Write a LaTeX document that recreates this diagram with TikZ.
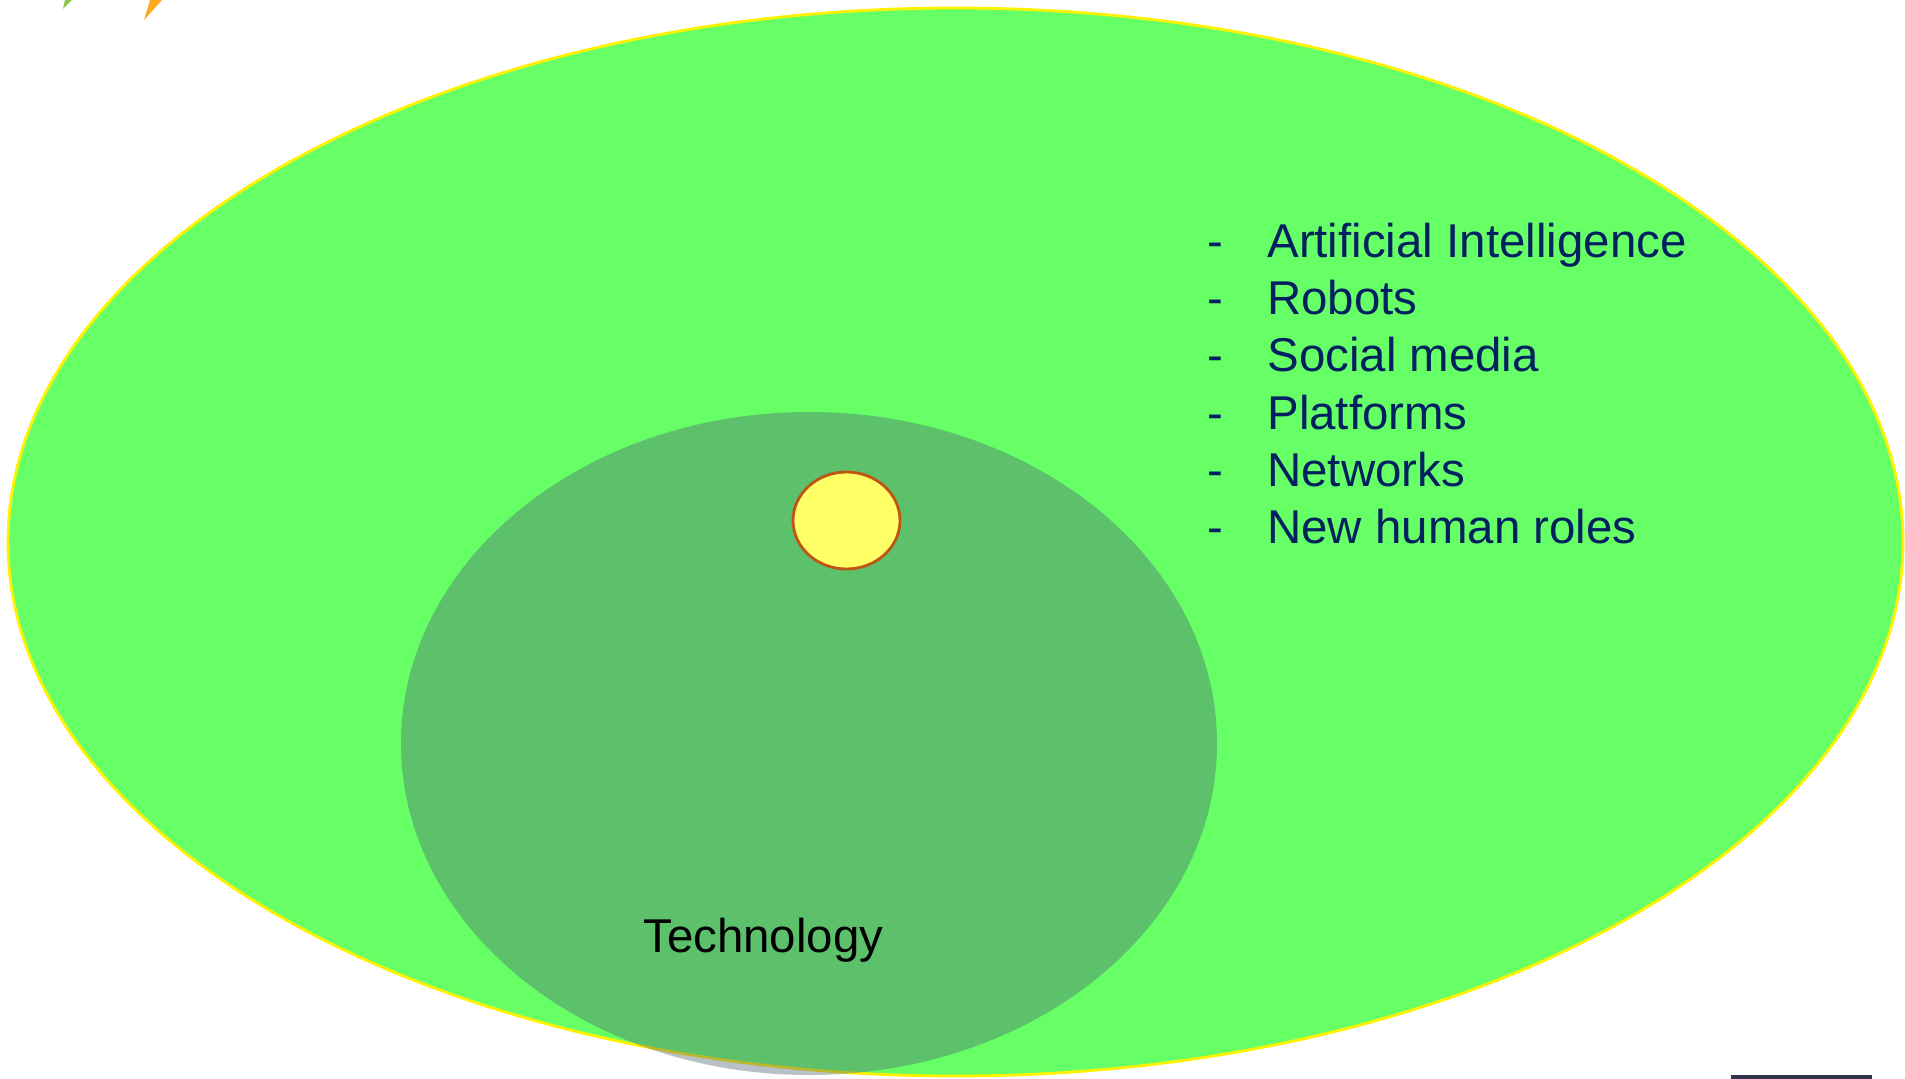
\documentclass[tikz,border=0pt]{standalone}
\usepackage{xcolor}
\usepackage{fontspec}
\setmainfont{Liberation Sans}
\usetikzlibrary{positioning}

\definecolor{outergreen}{RGB}{102,255,102}
\definecolor{slategrey}{RGB}{80,100,117}
\definecolor{sunyellow}{RGB}{255,255,102}
\definecolor{rustorange}{RGB}{190,85,20}
\definecolor{listblue}{RGB}{0,32,96}
\definecolor{sprigorange}{RGB}{255,170,30}
\definecolor{spriggreen}{RGB}{140,200,70}
\definecolor{rulenavy}{RGB}{51,51,77}

\begin{document}
\begin{tikzpicture}[x=0.02cm,y=-0.02cm,
    listitem/.style={anchor=base west,inner sep=0pt,text=listblue,font=\fontsize{27}{32}\selectfont},
    bigtext/.style={anchor=base west,inner sep=0pt,text=black,font=\fontsize{27}{32}\selectfont}]

    \useasboundingbox (0,0) rectangle (1905,1078);

    % bits of leaves at the top edge
    \fill[spriggreen] (65,0) -- (72,0) -- (63,9) -- cycle;
    \fill[sprigorange] (150,0) -- (162,0) -- (144,20) -- cycle;

    % outer ellipse
    \draw[fill=outergreen,draw=yellow,line width=1.6pt] (955.5,542) ellipse (947.5 and 534);

    % technology ellipse, see-through
    \fill[slategrey,opacity=.4] (809,743.5) ellipse (408 and 331.5);

    % small sun
    \draw[fill=sunyellow,draw=rustorange,line width=1.6pt] (846.5,520.5) ellipse (53.5 and 48.5);

    % list
    \node[listitem] (d1) at (1207,257) {-};
    \node[listitem] (ai) at (1267,257) {Artificial Intelligence};
    \node[listitem] (d2) at (1207,314) {-};
    \node[listitem] (robots) at (1267,314) {Robots};
    \node[listitem] (d3) at (1207,371.5) {-};
    \node[listitem] (social) at (1267,371.5) {Social media};
    \node[listitem] (d4) at (1207,429) {-};
    \node[listitem] (platforms) at (1267,429) {Platforms};
    \node[listitem] (d5) at (1207,486) {-};
    \node[listitem] (networks) at (1267,486) {Networks};
    \node[listitem] (d6) at (1207,543) {-};
    \node[listitem] (roles) at (1267,543) {New human roles};

    % label of the inner ellipse
    \node[bigtext] (tech) at (643,952) {Technology};

    % short rule at the bottom
    \draw[rulenavy,line width=1.8pt] (1731,1077) -- (1872,1077);
\end{tikzpicture}
\end{document}
